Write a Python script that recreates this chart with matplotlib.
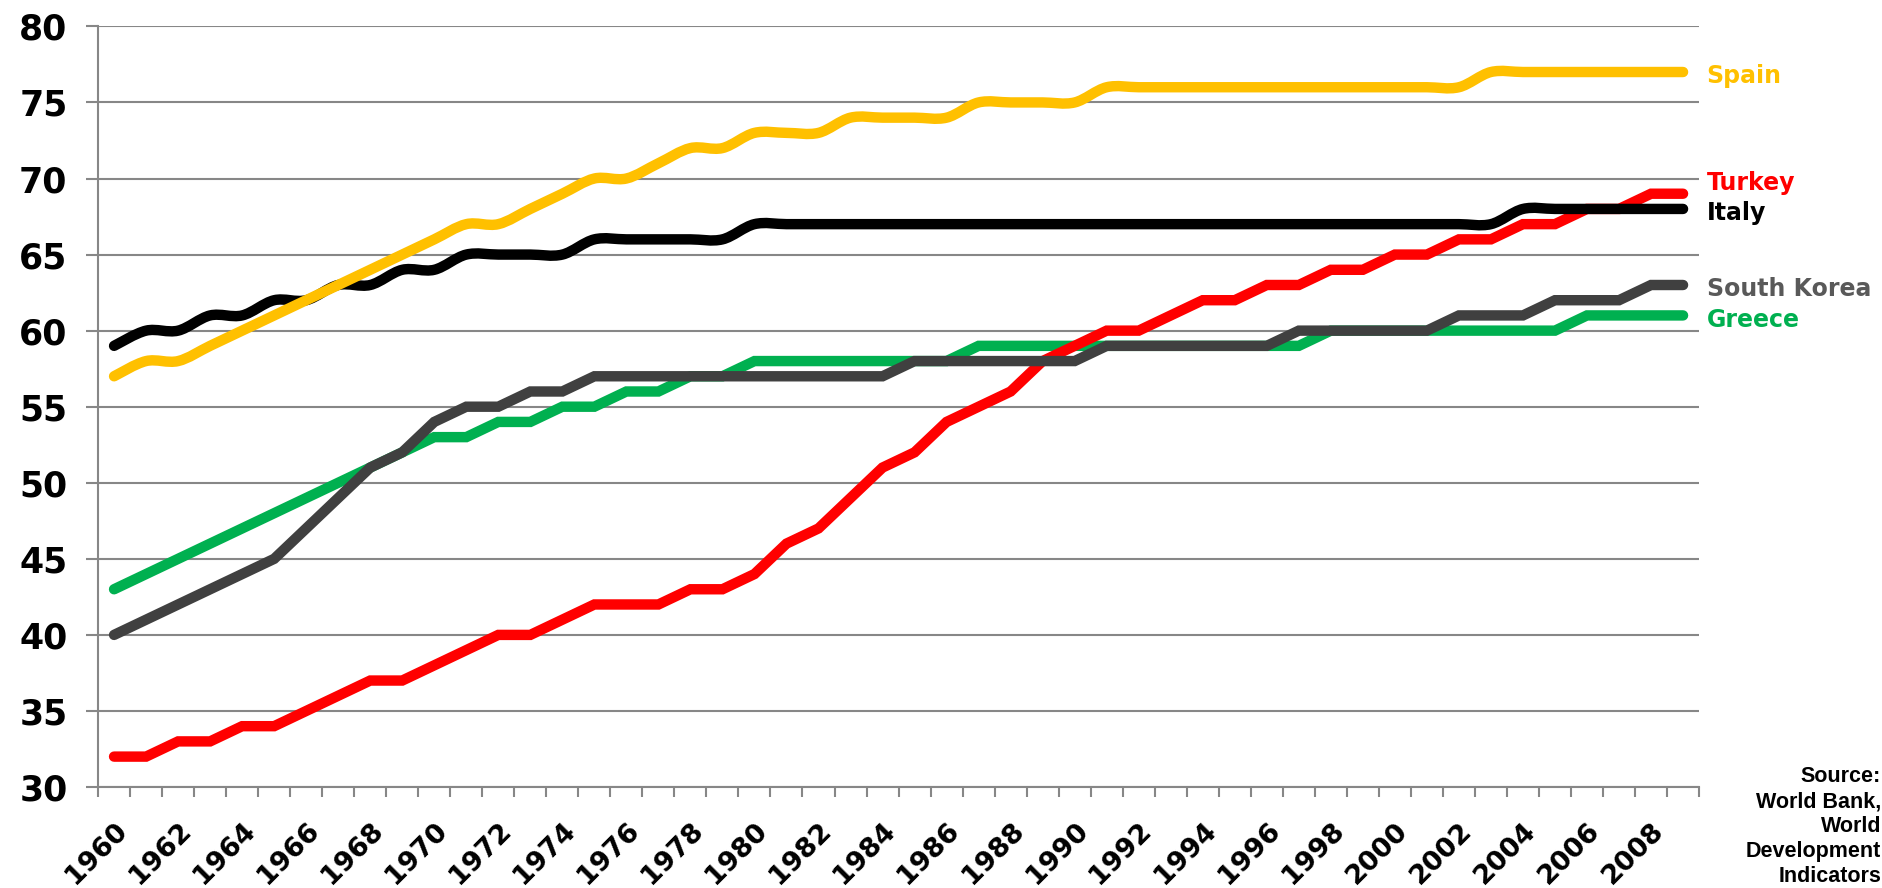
import numpy as np
import matplotlib
matplotlib.use('Agg')
import matplotlib.pyplot as plt
from matplotlib.path import Path
from matplotlib.patches import PathPatch
from matplotlib.transforms import ScaledTranslation

years = list(range(1960, 2010))

greece = [43, 44, 45, 46, 47, 48, 49, 50, 51, 52,
          53, 53, 54, 54, 55, 55, 56, 56, 57, 57,
          58, 58, 58, 58, 58, 58, 58, 59, 59, 59,
          59, 59, 59, 59, 59, 59, 59, 59, 60, 60,
          60, 60, 60, 60, 60, 60, 61, 61, 61, 61]
turkey = [32, 32, 33, 33, 34, 34, 35, 36, 37, 37,
          38, 39, 40, 40, 41, 42, 42, 42, 43, 43,
          44, 46, 47, 49, 51, 52, 54, 55, 56, 58,
          59, 60, 60, 61, 62, 62, 63, 63, 64, 64,
          65, 65, 66, 66, 67, 67, 68, 68, 69, 69]
korea = [40, 41, 42, 43, 44, 45, 47, 49, 51, 52,
         54, 55, 55, 56, 56, 57, 57, 57, 57, 57,
         57, 57, 57, 57, 57, 58, 58, 58, 58, 58,
         58, 59, 59, 59, 59, 59, 59, 60, 60, 60,
         60, 60, 61, 61, 61, 62, 62, 62, 63, 63]
italy = [59, 60, 60, 61, 61, 62, 62, 63, 63, 64,
         64, 65, 65, 65, 65, 66, 66, 66, 66, 66,
         67, 67, 67, 67, 67, 67, 67, 67, 67, 67,
         67, 67, 67, 67, 67, 67, 67, 67, 67, 67,
         67, 67, 67, 67, 68, 68, 68, 68, 68, 68]
spain = [57, 58, 58, 59, 60, 61, 62, 63, 64, 65,
         66, 67, 67, 68, 69, 70, 70, 71, 72, 72,
         73, 73, 73, 74, 74, 74, 74, 75, 75, 75,
         75, 76, 76, 76, 76, 76, 76, 76, 76, 76,
         76, 76, 76, 77, 77, 77, 77, 77, 77, 77]


def smooth_path(x, y):
    # excel-like smoothed line: catmull-rom as cubic bezier segments
    x = np.asarray(x, float)
    y = np.asarray(y, float)
    xp = np.concatenate([[x[0]], x, [x[-1]]])
    yp = np.concatenate([[y[0]], y, [y[-1]]])
    verts = [(x[0], y[0])]
    codes = [Path.MOVETO]
    for i in range(len(x) - 1):
        c1 = (x[i] + (xp[i + 2] - xp[i]) / 6, y[i] + (yp[i + 2] - yp[i]) / 6)
        c2 = (x[i + 1] - (xp[i + 3] - xp[i + 1]) / 6, y[i + 1] - (yp[i + 3] - yp[i + 1]) / 6)
        verts += [c1, c2, (x[i + 1], y[i + 1])]
        codes += [Path.CURVE4] * 3
    return Path(verts, codes)


fig = plt.figure(figsize=(18.82, 8.88), dpi=100)
ax = fig.add_axes([0.0521, 0.1137, 0.8507, 0.8566])

idx = np.arange(len(years))
lw = 7.5

ax.plot(idx, greece, color='#00B050', lw=lw, solid_capstyle='round', solid_joinstyle='miter', zorder=3)
ax.plot(idx, turkey, color='#FF0000', lw=lw, solid_capstyle='round', solid_joinstyle='miter', zorder=4)
ax.plot(idx, korea, color='#404040', lw=lw, solid_capstyle='round', solid_joinstyle='miter', zorder=5)
ax.add_patch(PathPatch(smooth_path(idx, italy), fill=False, edgecolor='#000000', lw=lw,
                       capstyle='round', joinstyle='round', zorder=6))
ax.add_patch(PathPatch(smooth_path(idx, spain), fill=False, edgecolor='#FFC000', lw=lw,
                       capstyle='round', joinstyle='round', zorder=7))

# end labels
labels = [('Spain', spain[-1], '#FFC000'),
          ('Turkey', turkey[-1] + 1, '#FF0000'),
          ('Italy', italy[-1], '#000000'),
          ('South Korea', korea[-1], '#595959'),
          ('Greece', greece[-1], '#00B050')]
for name, yv, col in labels:
    ax.annotate(name, xy=(idx[-1], yv), xytext=(17, -3), textcoords='offset points',
                ha='left', va='center', fontsize=17, fontweight='bold', color=col,
                annotation_clip=False)

ax.set_xlim(-0.5, len(years) - 0.5)
ax.set_ylim(30, 80)
ax.set_yticks(range(30, 81, 5))
ax.set_yticklabels([str(v) for v in range(30, 81, 5)], fontsize=25, fontweight='bold')

ax.set_xticks(idx[::2])
ax.set_xticklabels([str(y) for y in years[::2]], rotation=45, ha='right', va='top',
                   rotation_mode='anchor', fontsize=19.5, fontweight='bold')
shift = ScaledTranslation(0.04, 0, fig.dpi_scale_trans)
for lab in ax.get_xticklabels():
    lab.set_transform(lab.get_transform() + shift)
ax.set_xticks(np.arange(-0.5, len(years), 1), minor=True)
ax.tick_params(axis='x', which='major', length=0, pad=22)
ax.tick_params(axis='x', which='minor', length=7, width=1.5, color='#878787', direction='out')
ax.tick_params(axis='y', length=9, width=1.5, color='#878787', direction='out', pad=13)

ax.grid(axis='y', color='#878787', lw=1.5, zorder=0)
for s in ['top', 'right']:
    ax.spines[s].set_visible(False)
for s in ['left', 'bottom']:
    ax.spines[s].set_color('#878787')
    ax.spines[s].set_linewidth(1.5)

fig.text(0.9995, 0.137, 'Source:\nWorld Bank,\nWorld\nDevelopment\nIndicators',
         ha='right', va='top', fontsize=15.5, fontweight='bold', family='Liberation Sans',
         linespacing=1.25, multialignment='right')

fig.savefig('out.png', dpi=100)
